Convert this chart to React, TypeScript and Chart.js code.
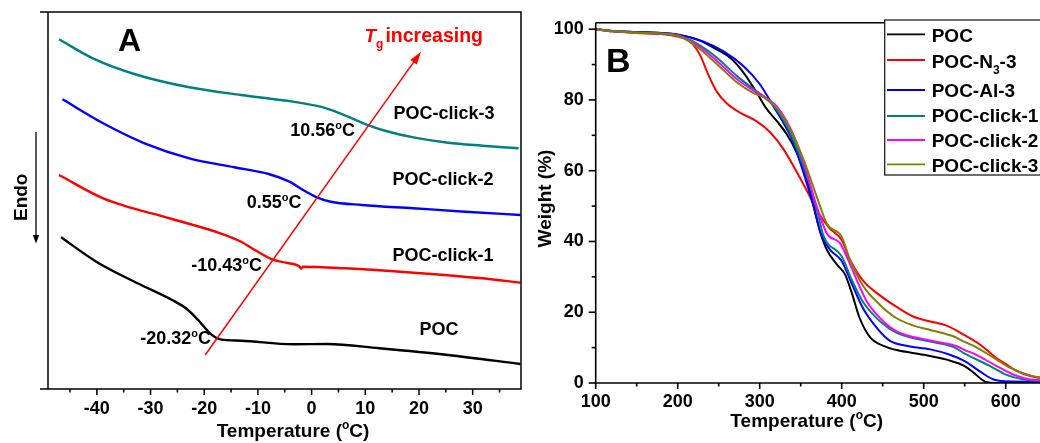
import React, { useEffect, useRef } from "react";
import { Chart, registerables } from "chart.js";

Chart.register(...registerables);

const FONT = "'Liberation Sans', Arial, Helvetica, sans-serif";
Chart.defaults.font.family = FONT;

// ---------------- Panel A : DSC ----------------
const dscMajorX = [-40, -30, -20, -10, 0, 10, 20, 30];
const dscMinorX = [-45, -35, -25, -15, -5, 5, 15, 25, 35];

const dscTempPOC = [-46.66, -40.11, -32.41, -25.98, -23.4, -20.85, -18.93, -16.99, -13.14, -3.5, 2.91, 12.56, 25.4, 38.89];
const dscHeatPOC = [40.24, 33.77, 28.04, 23.61, 21.41, 17.85, 14.77, 13.18, 12.81, 11.86, 11.94, 10.8, 9.02, 6.63];

const dscTempClick1 = [-47.05, -38.83, -25.98, -16.99, -13.14, -10.57, -7.36, -4.79, -2.22, -1.95, -1.58, 6.14, 18.97, 31.8, 38.89];
const dscHeatClick1 = [56.76, 50.58, 45.09, 41.3, 39.07, 36.87, 34.4, 33.5, 32.44, 31.94, 32.44, 32.02, 30.85, 29.36, 28.2];

const dscTempClick2 = [-46.4, -38.83, -31.12, -22.77, -14.41, -8.0, -4.14, -1.58, 0.99, 3.57, 9.35, 18.97, 28.61, 38.89];
const dscHeatClick2 = [76.84, 70.48, 65.17, 61.19, 58.81, 57.03, 54.99, 52.79, 50.85, 49.68, 48.81, 47.93, 47.03, 46.15];

const dscTempClick3 = [-47.05, -40.75, -32.41, -22.77, -13.14, -3.5, 1.63, 3.57, 6.77, 9.98, 13.84, 18.97, 25.4, 31.8, 38.55];
const dscHeatClick3 = [92.76, 87.72, 83.29, 80.03, 77.98, 76.21, 74.88, 74.01, 72.23, 70.29, 68.44, 66.76, 65.33, 64.54, 63.85];

const dscTg = [10.56, 0.55, -10.43, -20.32];
const dscArrowX = [-19.82, 20.39];
const dscArrowY = [9.02, 89.47];

// ---------------- Panel B : TGA ----------------
const tgaNames = ["POC", "POC-N_3-3", "POC-Al-3", "POC-click-1", "POC-click-2", "POC-click-3"];
const tgaColors = ["#000000", "#ff0000", "#0000ff", "#008080", "#ff00ff", "#808000"];

const tgaTempPOC = [100, 120, 150, 180, 200, 223, 248, 264, 280, 296, 308, 321, 333, 345, 357, 370, 374, 382, 394, 404, 412, 422, 435, 451, 467, 500, 528, 550, 561, 575, 590, 660];
const tgaWtPOC = [100, 99.5, 99.2, 98.9, 98.4, 97.2, 94.2, 91.9, 87.8, 82.2, 77.6, 74.0, 70.3, 65.2, 57.9, 46.0, 42.5, 37.6, 33.5, 30.7, 25.7, 18.3, 12.8, 10.5, 9.3, 8.0, 6.6, 4.8, 2.9, 0.4, 0, 0];

const tgaTempN3 = [100, 120, 150, 180, 200, 215, 227, 237, 248, 260, 276, 296, 313, 329, 345, 359, 370, 385, 400, 410, 426, 447, 467, 487, 508, 528, 550, 569, 589, 600, 612, 630, 660];
const tgaWtN3 = [100, 99.4, 98.9, 98.6, 97.9, 96.5, 92.8, 87.3, 82.2, 79.0, 76.4, 74.0, 70.8, 66.1, 59.7, 53.7, 48.7, 43.8, 40.4, 34.9, 28.9, 24.7, 21.5, 18.8, 17.4, 16.2, 13.5, 10.8, 7.0, 5.4, 3.6, 2.0, 1.0];

const tgaTempAl = [100, 120, 150, 180, 200, 231, 256, 280, 300, 317, 329, 341, 353, 365, 375, 386, 400, 410, 426, 443, 459, 479, 508, 532, 550, 569, 585, 609, 660];
const tgaWtAl = [100, 99.5, 99.2, 98.9, 98.5, 96.5, 93.7, 89.6, 84.5, 78.1, 73.5, 68.0, 59.7, 50.5, 42.0, 37.6, 34.5, 29.3, 21.1, 15.5, 11.9, 10.5, 9.5, 8.0, 6.2, 3.2, 1.0, 0.4, 0.3];

const tgaTempClick1 = [100, 120, 150, 180, 200, 223, 248, 272, 292, 305, 321, 337, 353, 368, 378, 400, 412, 426, 447, 467, 508, 536, 550, 581, 601, 622, 660];
const tgaWtClick1 = [100, 99.5, 99.1, 98.8, 98.3, 96.0, 91.9, 86.8, 83.2, 80.9, 77.2, 70.8, 61.5, 50.5, 41.5, 35.8, 29.3, 22.9, 17.4, 14.2, 11.7, 10.2, 8.3, 4.8, 2.3, 1.0, 0.5];

const tgaTempClick2 = [100, 120, 150, 180, 200, 223, 248, 272, 292, 305, 321, 333, 345, 357, 370, 382, 398, 406, 418, 431, 451, 467, 508, 540, 550, 561, 589, 609, 630, 660];
const tgaWtClick2 = [100, 99.4, 99.0, 98.7, 98.2, 95.6, 91.0, 85.9, 82.7, 81.0, 78.1, 74.0, 68.0, 59.7, 49.6, 42.2, 39.5, 35.8, 29.3, 22.9, 17.4, 14.6, 12.0, 10.4, 9.3, 8.3, 4.8, 2.4, 1.0, 0.7];

const tgaTempClick3 = [100, 120, 150, 180, 200, 223, 248, 272, 292, 305, 321, 337, 353, 370, 382, 400, 410, 426, 447, 467, 487, 508, 536, 550, 561, 589, 600, 609, 630, 660];
const tgaWtClick3 = [100, 99.4, 99.0, 98.7, 98.2, 95.1, 90.1, 85.0, 82.0, 80.7, 77.6, 71.7, 63.4, 52.4, 45.0, 41.3, 34.9, 27.5, 22.0, 18.3, 16.3, 15.0, 13.2, 11.6, 10.5, 6.6, 5.0, 3.9, 2.1, 1.0];

const tgaMajorX = [100, 200, 300, 400, 500, 600];
const tgaMinorX = [150, 250, 350, 450, 550, 650];
const tgaMajorY = [0, 20, 40, 60, 80, 100];
const tgaMinorY = [10, 30, 50, 70, 90];

// ---------------- helpers ----------------
type Seg = { t: string; size: number; dy?: number; italic?: boolean; gap?: number };

function rich(str: string, size: number): Seg[] {
  const segs: Seg[] = [];
  let buf = "";
  const small = Math.round(size * 0.62);
  for (let i = 0; i < str.length; i++) {
    const c = str[i];
    if ((c === "_" || c === "^") && i + 1 < str.length) {
      if (buf) {
        segs.push({ t: buf, size });
        buf = "";
      }
      segs.push({ t: str[i + 1], size: small, dy: c === "_" ? size * 0.33 : -size * 0.4 });
      i++;
    } else buf += c;
  }
  if (buf) segs.push({ t: buf, size });
  return segs;
}

function fontOf(s: Seg) {
  return `${s.italic ? "italic " : ""}bold ${s.size}px ${FONT}`;
}

function drawRich(ctx: CanvasRenderingContext2D, segs: Seg[], x: number, y: number, align: string, color: string) {
  ctx.save();
  ctx.fillStyle = color;
  ctx.textBaseline = "alphabetic";
  ctx.textAlign = "left";
  let w = 0;
  for (const s of segs) {
    ctx.font = fontOf(s);
    w += (s.gap || 0) + ctx.measureText(s.t).width;
  }
  let cx = align === "left" ? x : align === "center" ? x - w / 2 : x - w;
  for (const s of segs) {
    cx += s.gap || 0;
    ctx.font = fontOf(s);
    ctx.fillText(s.t, cx, y + (s.dy || 0));
    cx += ctx.measureText(s.t).width;
  }
  ctx.restore();
}

function seg(ctx: CanvasRenderingContext2D, x1: number, y1: number, x2: number, y2: number) {
  ctx.beginPath();
  ctx.moveTo(x1, y1);
  ctx.lineTo(x2, y2);
  ctx.stroke();
}

const zip = (xs: number[], ys: number[]) => xs.map((x, i) => ({ x, y: ys[i] }));

const tickFont = { family: FONT, size: 18, weight: "bold" as const };

// ---------------- Panel A config ----------------
const dscLabelPos = [
  { x: 444, y: 119 },
  { x: 443, y: 184.7 },
  { x: 443, y: 261.4 },
  { x: 439, y: 334.7 },
];
const dscSeriesNames = ["POC-click-3", "POC-click-2", "POC-click-1", "POC"];
const dscTgPos = [
  { x: 355, y: 136.4 },
  { x: 301.5, y: 208.1 },
  { x: 262, y: 271.4 },
  { x: 211, y: 343.7 },
];

const dscPlugin = {
  id: "dscDecor",
  afterDraw(chart: any) {
    const { ctx, chartArea: a, scales } = chart;
    const x = scales.x;
    const y = scales.y;
    ctx.save();
    ctx.strokeStyle = "#000";
    ctx.lineWidth = 1.5;
    seg(ctx, a.left - 8, a.top, a.right + 0.75, a.top);
    seg(ctx, a.left - 8, a.bottom, a.right + 0.75, a.bottom);
    seg(ctx, a.left, a.top, a.left, a.bottom);
    seg(ctx, a.right, a.top, a.right, a.bottom);
    for (const v of dscMajorX) {
      const p = x.getPixelForValue(v);
      seg(ctx, p, a.bottom, p, a.bottom + 6);
    }
    for (const v of dscMinorX) {
      const p = x.getPixelForValue(v);
      seg(ctx, p, a.bottom, p, a.bottom + 3.5);
    }
    // Tg arrow
    const x0 = x.getPixelForValue(dscArrowX[0]);
    const y0 = y.getPixelForValue(dscArrowY[0]);
    const x1 = x.getPixelForValue(dscArrowX[1]);
    const y1 = y.getPixelForValue(dscArrowY[1]);
    const ang = Math.atan2(y1 - y0, x1 - x0);
    const hl = 13;
    const hw = 4;
    ctx.strokeStyle = "#ff0000";
    ctx.lineWidth = 1.5;
    seg(ctx, x0, y0, x1 - Math.cos(ang) * hl * 0.8, y1 - Math.sin(ang) * hl * 0.8);
    ctx.fillStyle = "#ff0000";
    ctx.beginPath();
    ctx.moveTo(x1, y1);
    ctx.lineTo(x1 - Math.cos(ang) * hl - Math.sin(ang) * hw, y1 - Math.sin(ang) * hl + Math.cos(ang) * hw);
    ctx.lineTo(x1 - Math.cos(ang) * hl + Math.sin(ang) * hw, y1 - Math.sin(ang) * hl - Math.cos(ang) * hw);
    ctx.closePath();
    ctx.fill();
    // Endo arrow
    ctx.strokeStyle = "#000";
    ctx.fillStyle = "#000";
    ctx.lineWidth = 1.3;
    seg(ctx, 36, 132, 36, 238);
    ctx.beginPath();
    ctx.moveTo(36, 243.5);
    ctx.lineTo(32.8, 235);
    ctx.lineTo(39.2, 235);
    ctx.closePath();
    ctx.fill();
    ctx.save();
    ctx.translate(26.7, 197.3);
    ctx.rotate(-Math.PI / 2);
    ctx.font = `bold 19px ${FONT}`;
    ctx.textAlign = "center";
    ctx.textBaseline = "alphabetic";
    ctx.fillText("Endo", 0, 0);
    ctx.restore();
    // panel letter
    ctx.font = `bold 32px ${FONT}`;
    ctx.textAlign = "center";
    ctx.textBaseline = "alphabetic";
    ctx.fillText("A", 129.5, 50.7);
    // Tg increasing
    drawRich(
      ctx,
      [
        { t: "T", size: 19, italic: true },
        { t: "g", size: 12, dy: 6 },
        { t: "increasing", size: 19.5, gap: 2 },
      ],
      364.5,
      41.7,
      "left",
      "#ff0000"
    );
    // series labels
    dscSeriesNames.forEach((n, i) => drawRich(ctx, rich(n, 18), dscLabelPos[i].x, dscLabelPos[i].y, "center", "#000"));
    dscTg.forEach((v, i) => drawRich(ctx, rich(`${v.toFixed(2)}^oC`, 18), dscTgPos[i].x, dscTgPos[i].y, "right", "#000"));
    // axis title
    drawRich(ctx, rich("Temperature (^oC)", 19), 293, 437, "center", "#000");
    ctx.restore();
  },
};

function dscConfig(): any {
  const mk = (label: string, xs: number[], ys: number[], color: string) => ({
    label,
    data: zip(xs, ys),
    borderColor: color,
    backgroundColor: color,
    borderWidth: 2.4,
    pointRadius: 0,
    fill: false,
    cubicInterpolationMode: "monotone",
  });
  return {
    type: "line",
    data: {
      datasets: [
        mk("POC", dscTempPOC, dscHeatPOC, "#000000"),
        mk("POC-click-1", dscTempClick1, dscHeatClick1, "#ff0000"),
        mk("POC-click-2", dscTempClick2, dscHeatClick2, "#0000ff"),
        mk("POC-click-3", dscTempClick3, dscHeatClick3, "#008080"),
      ],
    },
    options: {
      responsive: false,
      maintainAspectRatio: false,
      animation: false,
      layout: { padding: { left: 48, top: 12, right: 9, bottom: 0 } },
      plugins: { legend: { display: false }, tooltip: { enabled: false } },
      scales: {
        x: {
          type: "linear",
          min: -49.1,
          max: 39,
          afterFit: (s: any) => {
            s.height = 54;
          },
          grid: { display: false, drawTicks: false },
          border: { display: false },
          ticks: { stepSize: 10, includeBounds: false, autoSkip: false, maxRotation: 0, padding: 9.5, color: "#000", font: tickFont },
        },
        y: { type: "linear", display: false, min: 0, max: 100 },
      },
    },
    plugins: [dscPlugin],
  };
}

// ---------------- Panel B config ----------------
const legendRowsLineY = [34.3, 60, 90, 116, 140, 164.3];
const legendRowsTextY = [41.6, 67.9, 97.3, 122.3, 146.6, 171.6];

const tgaPlugin = {
  id: "tgaDecor",
  afterDraw(chart: any) {
    const { ctx, chartArea: a, scales } = chart;
    const x = scales.x;
    const y = scales.y;
    ctx.save();
    ctx.strokeStyle = "#000";
    ctx.lineWidth = 1.6;
    seg(ctx, a.left, a.top, a.right, a.top);
    seg(ctx, a.left - 0.8, a.bottom, a.right, a.bottom);
    seg(ctx, a.left, a.top, a.left, a.bottom);
    for (const v of tgaMajorX) {
      const p = x.getPixelForValue(v);
      seg(ctx, p, a.bottom, p, a.bottom + 6);
    }
    for (const v of tgaMinorX) {
      const p = x.getPixelForValue(v);
      seg(ctx, p, a.bottom, p, a.bottom + 3.5);
    }
    for (const v of tgaMajorY) {
      const p = y.getPixelForValue(v);
      seg(ctx, a.left - 7, p, a.left, p);
    }
    for (const v of tgaMinorY) {
      const p = y.getPixelForValue(v);
      seg(ctx, a.left - 4, p, a.left, p);
    }
    // panel letter
    ctx.fillStyle = "#000";
    ctx.font = `bold 34px ${FONT}`;
    ctx.textAlign = "left";
    ctx.textBaseline = "alphabetic";
    ctx.fillText("B", 76, 71.7);
    // y title
    ctx.save();
    ctx.translate(21, 198.5);
    ctx.rotate(-Math.PI / 2);
    ctx.font = `bold 19px ${FONT}`;
    ctx.textAlign = "center";
    ctx.fillText("Weight (%)", 0, 0);
    ctx.restore();
    // x title
    drawRich(ctx, rich("Temperature (^oC)", 19), 276.7, 426.8, "center", "#000");
    // legend
    ctx.fillStyle = "#fff";
    ctx.fillRect(354.7, 20, 200, 155);
    ctx.strokeStyle = "#222";
    ctx.lineWidth = 1.3;
    ctx.strokeRect(354.7, 20, 200, 155);
    tgaNames.forEach((n, i) => {
      ctx.strokeStyle = tgaColors[i];
      ctx.lineWidth = 1.8;
      seg(ctx, 357, legendRowsLineY[i], 395, legendRowsLineY[i]);
      drawRich(ctx, rich(n, 19), 401.7, legendRowsTextY[i], "left", "#000");
    });
    ctx.restore();
  },
};

function tgaConfig(): any {
  const temps = [tgaTempPOC, tgaTempN3, tgaTempAl, tgaTempClick1, tgaTempClick2, tgaTempClick3];
  const wts = [tgaWtPOC, tgaWtN3, tgaWtAl, tgaWtClick1, tgaWtClick2, tgaWtClick3];
  return {
    type: "line",
    data: {
      datasets: tgaNames.map((n, i) => ({
        label: n.replace("_", ""),
        data: zip(temps[i], wts[i]),
        borderColor: tgaColors[i],
        backgroundColor: tgaColors[i],
        borderWidth: 2,
        pointRadius: 0,
        fill: false,
        cubicInterpolationMode: "monotone",
        order: tgaNames.length - i,
      })),
    },
    options: {
      responsive: false,
      maintainAspectRatio: false,
      animation: false,
      layout: { padding: { left: 0, top: 14, right: 15.1, bottom: 0 } },
      plugins: { legend: { display: false }, tooltip: { enabled: false } },
      scales: {
        x: {
          type: "linear",
          min: 100,
          max: 660,
          afterFit: (s: any) => {
            s.height = 60;
          },
          grid: { display: false, drawTicks: false },
          border: { display: false },
          ticks: { stepSize: 100, includeBounds: false, autoSkip: false, maxRotation: 0, padding: 8, color: "#000", font: tickFont },
        },
        y: {
          type: "linear",
          min: 0,
          max: 101.8,
          afterFit: (s: any) => {
            s.width = 65.7;
          },
          grid: { display: false, drawTicks: false },
          border: { display: false },
          ticks: { stepSize: 20, includeBounds: false, autoSkip: false, padding: 12, color: "#000", font: tickFont },
        },
      },
    },
    plugins: [tgaPlugin],
  };
}

function ChartCanvas({ make, width, height }: { make: () => any; width: number; height: number }) {
  const ref = useRef<HTMLCanvasElement>(null);
  useEffect(() => {
    const chart = new Chart(ref.current as HTMLCanvasElement, make());
    return () => chart.destroy();
  }, []);
  return <canvas ref={ref} width={width} height={height} style={{ display: "block", width, height }} />;
}

export default function App() {
  return (
    <div style={{ position: "fixed", left: 0, top: 0, width: 1040, height: 443, overflow: "hidden", background: "#fff" }}>
      <div style={{ position: "absolute", left: 0, top: 0, width: 530, height: 443 }}>
        <ChartCanvas make={dscConfig} width={530} height={443} />
      </div>
      <div style={{ position: "absolute", left: 530, top: 0, width: 540, height: 443 }}>
        <ChartCanvas make={tgaConfig} width={540} height={443} />
      </div>
    </div>
  );
}
